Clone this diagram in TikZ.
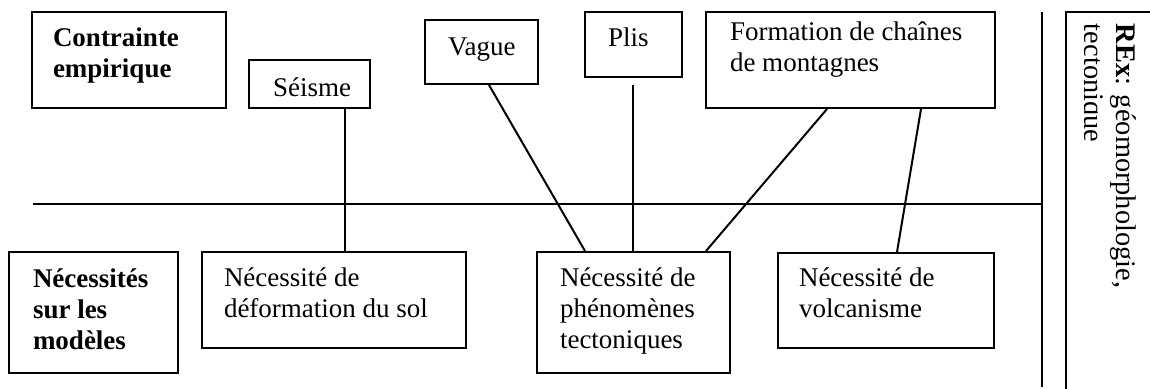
\documentclass[tikz,border=0pt]{standalone}
\usepackage{fontspec}
\setmainfont{Liberation Serif}
\usetikzlibrary{fit,calc}
\begin{document}
\begin{tikzpicture}[x=0.5pt,y=-0.5pt,line width=1pt,
  box/.style={draw,inner sep=0pt},
  txt/.style={inner sep=0pt,anchor=base west,align=left,font=\fontsize{13.5}{15.5}\selectfont},
  btxt/.style={txt,font=\fontsize{13.5}{15.5}\selectfont\bfseries},
  rtxt/.style={inner sep=0pt,anchor=base west,rotate=-90,font=\fontsize{14.2}{16}\selectfont},
  link/.style={draw,line width=1pt}]
\useasboundingbox (0,0) rectangle (1150,389);
% top row (multi-line texts are placed by the baseline of their last line)
\node[box,fit={(32,12) (226,108)}] (contr) {};
\node[btxt] (tcontr) at (52,78) {Contrainte\\empirique};
\node[box,fit={(249,60) (370,108)}] (seisme) {};
\node[txt] (tseisme) at (272,97) {Séisme};
\node[box,fit={(425,20) (538,84)}] (vague) {};
\node[txt] (tvague) at (447,56) {Vague};
\node[box,fit={(585,12) (682,77)}] (plis) {};
\node[txt] (tplis) at (607,47) {Plis};
\node[box,fit={(706,12) (995,108)}] (form) {};
\node[txt] (tform) at (729,72) {Formation de chaînes\\de montagnes};
% bottom row
\node[box,fit={(9,252) (178,373)}] (necmod) {};
\node[btxt] (tnecmod) at (32,350) {Nécessités\\sur les\\modèles};
\node[box,fit={(202,252) (466,348)}] (deform) {};
\node[txt] (tdeform) at (223,318) {Nécessité de\\déformation du sol};
\node[box,fit={(537,252) (730,373)}] (phen) {};
\node[txt] (tphen) at (559,349) {Nécessité de\\phénomènes\\tectoniques};
\node[box,fit={(778,253) (994,348)}] (volc) {};
\node[txt] (tvolc) at (798,318) {Nécessité de\\volcanisme};
% separators
\coordinate (hl) at (33,204);
\coordinate (vtop) at (1042,12);
\coordinate (vbot) at (1042,387);
\draw (hl) -- (hl -| vtop);
\draw (vtop) -- (vbot);
% REx box
\coordinate (rexbl) at (1066,389);
\coordinate (rextl) at (1066,12);
\coordinate (rextr) at (1150,12);
\draw (rexbl) -- (rextl) -- (rextr);
\node[rtxt] (trex1) at (1116,23) {\textbf{REx}: géomorphologie,};
\begin{scope}
\clip (1084,0) rectangle (1150,389);
\node[rtxt] (trex2) at (1084,23) {tectonique};
\end{scope}
% connectors
\draw[link] ($(seisme.south west)+(97,0)$) -- ($(deform.north west)+(144,0)$);
\draw[link] ($(vague.south west)+(65,0)$) -- ($(phen.north west)+(49,0)$);
\draw[link] ($(plis.south west)+(49,7)$) -- ($(phen.north west)+(97,0)$);
\draw[link] ($(form.south west)+(122,0)$) -- ($(phen.north west)+(170,0)$);
\draw[link] ($(form.south west)+(216,0)$) -- ($(volc.north west)+(120,0)$);
\end{tikzpicture}
\end{document}
